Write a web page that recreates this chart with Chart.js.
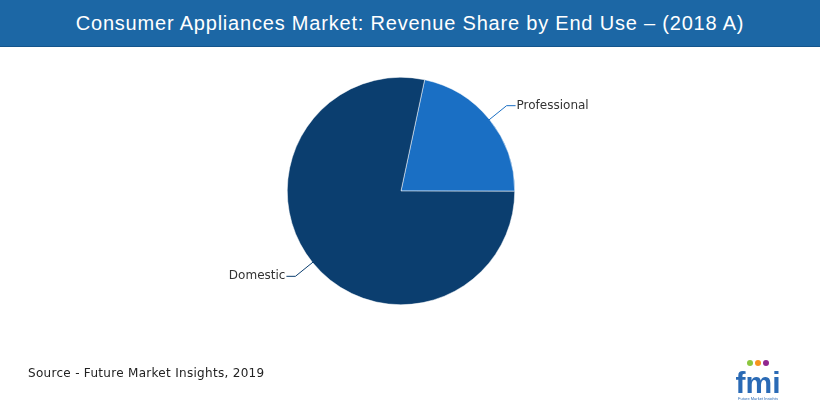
<!DOCTYPE html>
<html>
<head>
<meta charset="utf-8">
<script src="https://cdn.jsdelivr.net/npm/chart.js@4"></script>
<style>
  body { margin: 0; width: 820px; height: 400px; position: relative; background: #fff; overflow: hidden; }
  #title { position: absolute; left: 0; top: 0; width: 820px; height: 46px; background: #1c67a5;
    color: #fff; font: 20px "Liberation Sans", Arial, sans-serif; letter-spacing: 0.8px;
    text-align: center; line-height: 46px; border-bottom: 1px solid #14558c; }
  #source { position: absolute; left: 28px; top: 366px; font: 12px "DejaVu Sans", Verdana, sans-serif; color: #222; letter-spacing: 0.3px; }
  #logo { position: absolute; left: 732px; top: 352px; width: 52px; text-align: center; }
  #logo .f { font: bold 30px "Liberation Sans", Arial, sans-serif; color: #2a6ab5; line-height: 26px; }
  #logo .s { font: 4px "Liberation Sans", Arial, sans-serif; color: #2a6ab5; }
  #logo .dots span { display: inline-block; width: 6px; height: 6px; border-radius: 3px; margin: 0 1px; }
</style>
</head>
<body>
<canvas id="chart" width="820" height="400"></canvas>
<div id="title">Consumer Appliances Market: Revenue Share by End Use – (2018 A)</div>
<div id="source">Source - Future Market Insights, 2019</div>
<div id="logo">
  <div class="dots"><span style="background:#8cc63f"></span><span style="background:#f7941d"></span><span style="background:#92278f"></span></div>
  <div class="f">fmi</div>
  <div class="s">Future Market Insights</div>
</div>
<script>
const categories = ['Professional', 'Domestic'];
const shares = [21.7, 78.3];
const colors = ['#1a6fc4', '#0b3e6f'];

// leader lines + labels, positioned from the arcs chart.js computed
const leaderLabels = {
  id: 'leaderLabels',
  afterDraw(chart) {
    const ctx = chart.ctx;
    const meta = chart.getDatasetMeta(0);
    meta.data.forEach((arc, i) => {
      const mid = (arc.startAngle + arc.endAngle) / 2;
      const r = arc.outerRadius;
      const x0 = arc.x + Math.cos(mid) * (r - 10);
      const y0 = arc.y + Math.sin(mid) * (r - 10);
      const x1 = arc.x + Math.cos(mid) * (r + 22);
      const y1 = arc.y + Math.sin(mid) * (r + 22);
      const right = Math.cos(mid) >= 0;
      const x2 = x1 + (right ? 9 : -9);
      ctx.save();
      ctx.strokeStyle = colors[i];
      ctx.lineWidth = 1;
      ctx.beginPath();
      ctx.moveTo(x0, y0);
      ctx.lineTo(x1, y1);
      ctx.lineTo(x2, y1);
      ctx.stroke();
      ctx.fillStyle = '#333';
      ctx.font = '12px "DejaVu Sans", Verdana, sans-serif';
      ctx.textBaseline = 'middle';
      ctx.textAlign = right ? 'left' : 'right';
      ctx.fillText(categories[i], x2 + (right ? 1 : -1), y1);
      ctx.restore();
    });
  }
};

new Chart(document.getElementById('chart'), {
  type: 'pie',
  data: {
    labels: categories,
    datasets: [{
      data: shares,
      backgroundColor: colors,
      borderColor: '#ffffff',
      borderWidth: 0.5,
    }],
  },
  options: {
    responsive: false,
    animation: false,
    rotation: 12,
    layout: { padding: { top: 77, bottom: 95, left: 0, right: 18 } },
    plugins: { legend: { display: false }, tooltip: { enabled: false } },
  },
  plugins: [leaderLabels],
});
</script>
</body>
</html>
